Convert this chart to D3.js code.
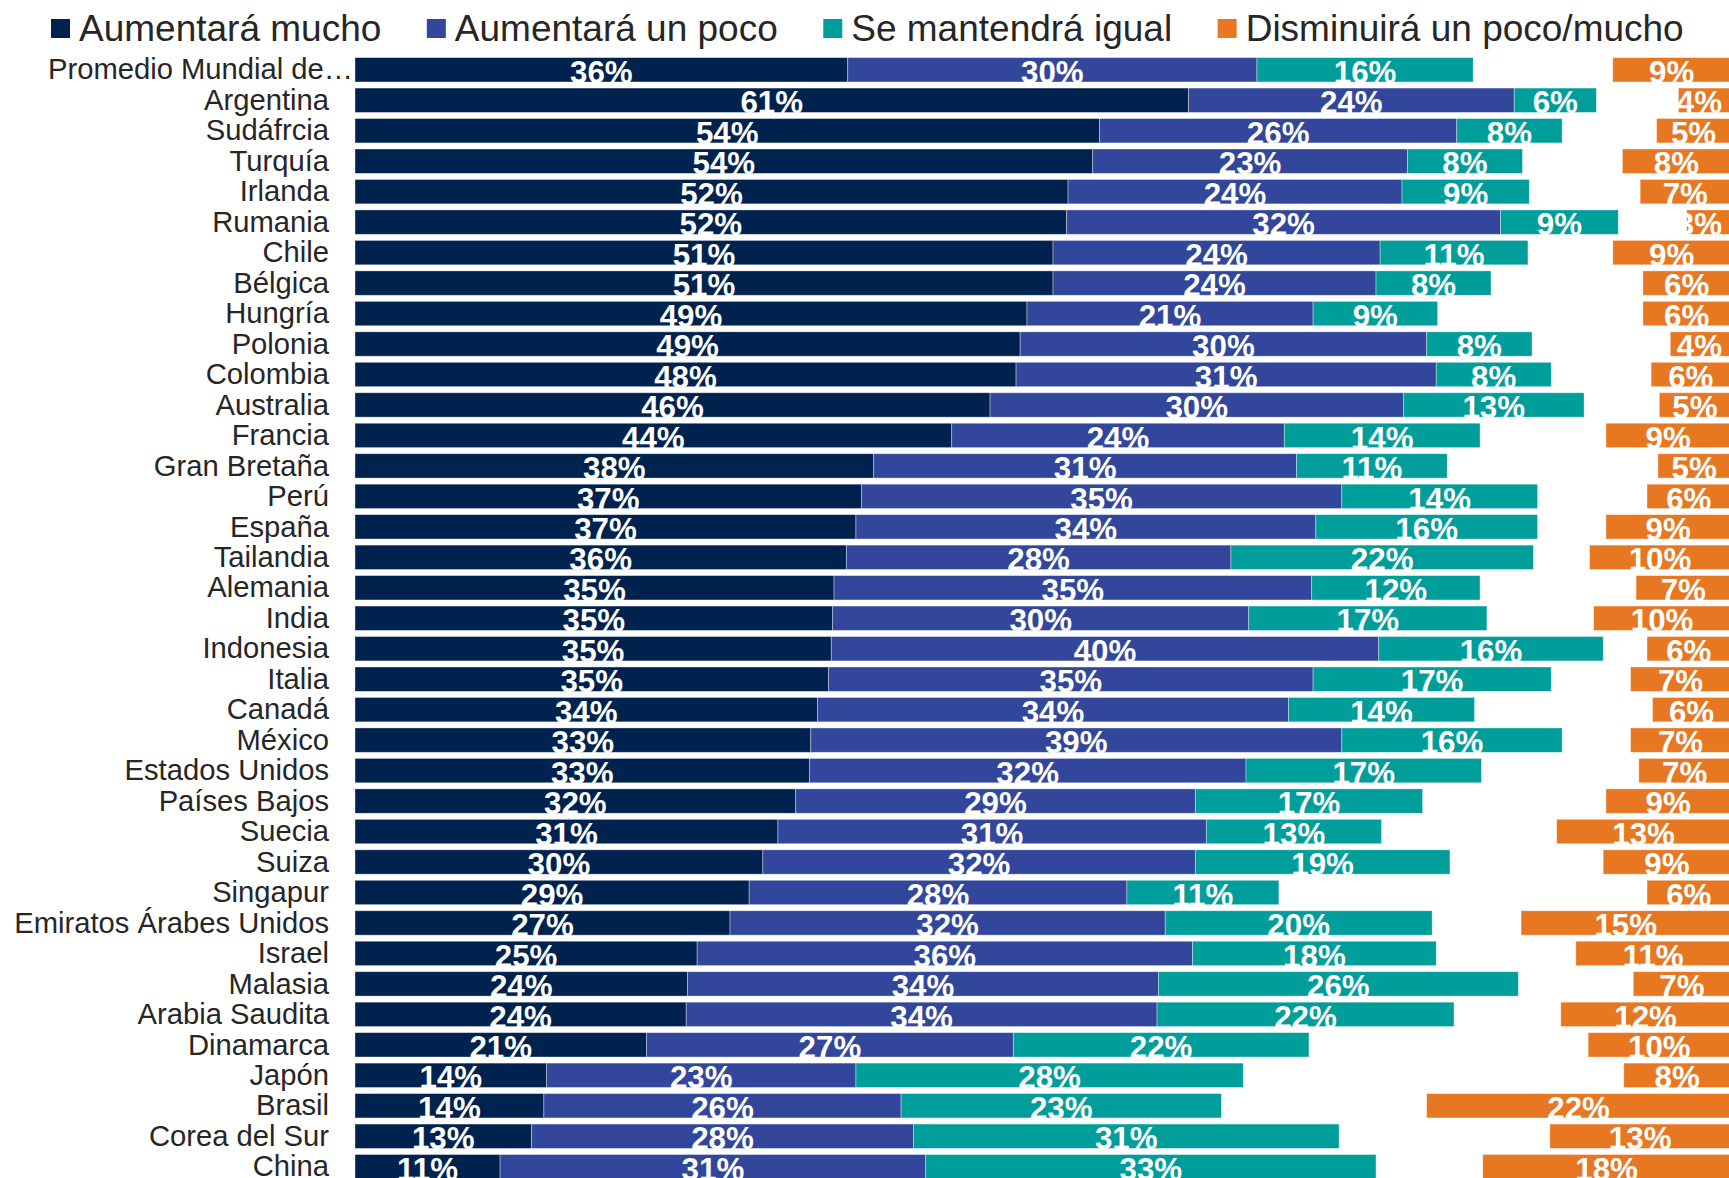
<!DOCTYPE html>
<html>
<head>
<meta charset="utf-8">
<script src="https://cdn.jsdelivr.net/npm/d3@7"></script>
<style>
  html, body { margin: 0; padding: 0; background: #ffffff; overflow: hidden; }
  svg { display: block; }
  text { font-family: "Liberation Sans", Arial, sans-serif; }
</style>
</head>
<body>
<svg id="chart" width="1729" height="1178"></svg>
<script>
// ---- data ----
const categories = [
  "Promedio Mundial de…", "Argentina", "Sudáfrcia", "Turquía", "Irlanda", "Rumania",
  "Chile", "Bélgica", "Hungría", "Polonia", "Colombia", "Australia", "Francia",
  "Gran Bretaña", "Perú", "España", "Tailandia", "Alemania", "India", "Indonesia",
  "Italia", "Canadá", "México", "Estados Unidos", "Países Bajos", "Suecia", "Suiza",
  "Singapur", "Emiratos Árabes Unidos", "Israel", "Malasia", "Arabia Saudita",
  "Dinamarca", "Japón", "Brasil", "Corea del Sur", "China"
];
const seriesNames = ["Aumentará mucho", "Aumentará un poco", "Se mantendrá igual", "Disminuirá un poco/mucho"];
const aumentaraMucho = [36.0, 60.9, 54.4, 53.9, 52.1, 52.0, 51.0, 51.0, 49.1, 48.6, 48.3, 46.4, 43.6,
  37.9, 37.0, 36.6, 35.9, 35.0, 34.9, 34.8, 34.6, 33.8, 33.3, 33.2, 32.2, 30.9, 29.8,
  28.8, 27.4, 25.0, 24.3, 24.2, 21.3, 14.0, 13.8, 12.9, 10.6];
const aumentaraPoco = [29.9, 23.8, 26.1, 23.0, 24.4, 31.7, 23.9, 23.6, 20.9, 29.7, 30.7, 30.2, 24.3,
  30.9, 35.1, 33.6, 28.1, 34.9, 30.4, 40.0, 35.4, 34.4, 38.8, 31.9, 29.2, 31.3, 31.6,
  27.6, 31.8, 36.2, 34.4, 34.4, 26.8, 22.6, 26.1, 27.9, 31.1];
const mantendraIgual = [15.8, 6.0, 7.7, 8.4, 9.3, 8.6, 10.8, 8.4, 9.1, 7.7, 8.4, 13.2, 14.3,
  11.0, 14.3, 16.2, 22.1, 12.3, 17.4, 16.4, 17.4, 13.6, 16.1, 17.2, 16.6, 12.8, 18.6,
  11.1, 19.5, 17.8, 26.3, 21.7, 21.6, 28.3, 23.4, 31.1, 32.9];
const disminuira = [8.6, 3.8, 5.4, 7.9, 6.6, 3.2, 8.6, 6.4, 6.4, 4.4, 5.8, 5.2, 9.1,
  5.3, 6.1, 9.1, 10.3, 6.9, 10.0, 6.1, 7.3, 5.7, 7.3, 6.7, 9.1, 12.7, 9.3,
  6.1, 15.3, 11.3, 7.1, 12.4, 10.4, 7.8, 22.2, 13.2, 18.1];
const seriesColors = ["#00224F", "#32479C", "#009E9B", "#E87722"];

// ---- layout ----
const svg = d3.select("#chart");
const rows = categories.map((c, i) => ({
  cat: c,
  mucho: aumentaraMucho[i],
  poco: aumentaraPoco[i],
  igual: mantendraIgual[i],
  dis: disminuira[i]
}));

const xMax = 100.5; // orange bars are anchored at the far end of the scale
const x = d3.scaleLinear().domain([0, xMax]).range([355, 1730.5]);
const labelLimit = 1722; // value labels are kept inside this edge
const pad = 0.2;
const step = 30.47;
const y0 = 57.6;
const y = d3.scaleBand()
  .domain(categories)
  .range([y0, y0 + categories.length * step - step * pad])
  .paddingInner(pad)
  .paddingOuter(0);

const stack = d3.stack().keys(["mucho", "poco", "igual"]);
const stacked = stack(rows);

const segments = [];
stacked.forEach((layer, k) => {
  layer.forEach(d => {
    segments.push({ cat: d.data.cat, x0: d[0], x1: d[1], v: d[1] - d[0], color: seriesColors[k] });
  });
});
rows.forEach(r => {
  segments.push({ cat: r.cat, x0: xMax - r.dis, x1: xMax, v: r.dis, color: seriesColors[3] });
});

// bars
svg.append("g").selectAll("rect")
  .data(segments)
  .join("rect")
  .attr("x", d => x(d.x0))
  .attr("y", d => y(d.cat))
  .attr("width", d => x(d.x1) - x(d.x0))
  .attr("height", y.bandwidth())
  .attr("fill", d => d.color)
  .attr("stroke", "#ffffff")
  .attr("stroke-opacity", 0.45)
  .attr("stroke-width", 0.8);

// value labels
svg.append("g").selectAll("text")
  .data(segments)
  .join("text")
  .attr("y", d => y(d.cat) + y.bandwidth() + 1)
  .attr("text-anchor", "middle")
  .attr("font-size", 31.3)
  .attr("font-weight", "bold")
  .attr("fill", "#ffffff")
  .text(d => Math.round(d.v) + "%")
  .attr("x", function(d) {
    const c = (x(d.x0) + x(d.x1)) / 2;
    const w = this.getComputedTextLength();
    return Math.min(c, labelLimit - w / 2);
  });

// category labels
const yAxis = d3.axisLeft(y).tickSize(0).tickPadding(0);
const axisG = svg.append("g")
  .attr("transform", `translate(${x(0) - 26},0)`)
  .call(yAxis);
axisG.select(".domain").remove();
axisG.selectAll(".tick text")
  .attr("font-family", "\"Liberation Sans\", Arial, sans-serif")
  .attr("font-size", 29.2)
  .attr("fill", "#262626")
  .attr("dy", null)
  .attr("y", y.bandwidth() / 2 - 2.5)
  .attr("x", d => d.endsWith("…") ? 24 : 0);

// legend
const legend = svg.append("g").attr("transform", "translate(51,0)");
let lx = 0;
seriesNames.forEach((name, i) => {
  const g = legend.append("g").attr("transform", `translate(${lx},0)`);
  g.append("rect").attr("x", 0).attr("y", 19).attr("width", 19).attr("height", 19)
    .attr("fill", seriesColors[i]);
  const t = g.append("text").attr("x", 28).attr("y", 40.7)
    .attr("font-size", 37).attr("fill", "#262626").text(name);
  lx += 28 + t.node().getComputedTextLength() + 45.5;
});
</script>
</body>
</html>
